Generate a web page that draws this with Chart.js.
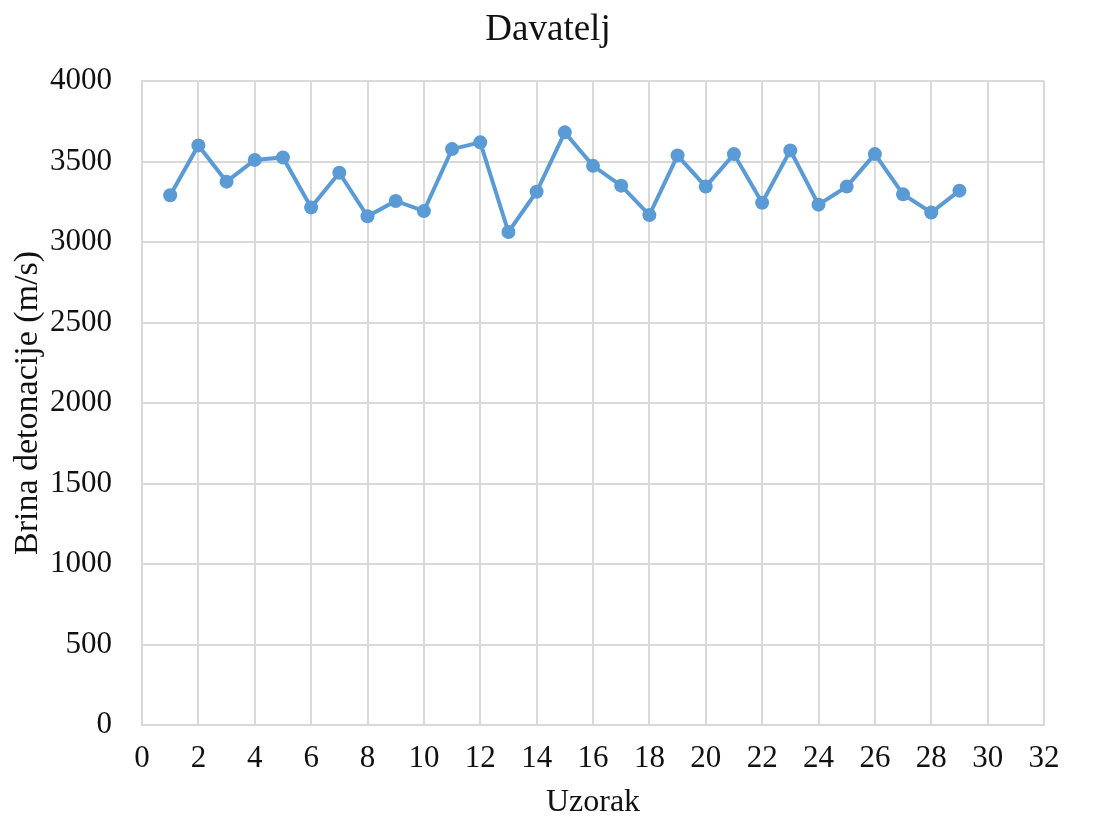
<!DOCTYPE html>
<html>
<head>
<meta charset="utf-8">
<script src="https://cdn.jsdelivr.net/npm/chart.js@4"></script>
<style>
  html, body { margin: 0; padding: 0; background: #fff; }
  #wrap { width: 1096px; height: 823px; }
</style>
</head>
<body>
<div id="wrap"><canvas id="chart" width="1096" height="823"></canvas></div>
<script>
// Sample numbers (Uzorak) and measured detonation velocity (m/s)
const samples = [1, 2, 3, 4, 5, 6, 7, 8, 9, 10, 11, 12, 13, 14, 15, 16, 17, 18, 19, 20, 21, 22, 23, 24, 25, 26, 27, 28, 29];
const velocities = [3290, 3600, 3375, 3510, 3525, 3215, 3430, 3160, 3255, 3192,
  3577, 3619, 3062, 3312, 3681, 3473, 3350, 3167, 3537, 3344,
  3546, 3244, 3569, 3232, 3344, 3546, 3296, 3183, 3319];

const chartTitle = 'Davatelj';
const xTitle = 'Uzorak';
const yTitle = 'Brina detonacije (m/s)';

const FONT = "'Liberation Serif', 'Times New Roman', serif";
const TEXT = '#111';
const GRID = '#d9d9d9';
const BLUE = '#5b9bd5';

const points = samples.map((s, i) => ({ x: s, y: velocities[i] }));

// Center the chart title on the whole canvas, not on the padded layout box
const fullWidthTitle = {
  id: 'fullWidthTitle',
  afterLayout(chart) {
    if (chart.titleBlock) {
      chart.titleBlock.left = 0;
      chart.titleBlock.right = chart.width;
      chart.titleBlock.width = chart.width;
    }
  },
};

new Chart(document.getElementById('chart'), {
  type: 'line',
  data: {
    datasets: [{
      data: points,
      borderColor: BLUE,
      backgroundColor: BLUE,
      borderWidth: 4,
      pointRadius: 7,
      pointBorderWidth: 0,
      tension: 0,
    }],
  },
  plugins: [fullWidthTitle],
  options: {
    responsive: false,
    animation: false,
    layout: { padding: { left: 0, right: 52, top: 0, bottom: 0 } },
    plugins: {
      legend: { display: false },
      tooltip: { enabled: false },
      title: {
        display: true,
        text: chartTitle,
        color: TEXT,
        font: { family: FONT, size: 37, weight: 'normal' },
        padding: { top: 8, bottom: 28.6 },
      },
    },
    scales: {
      x: {
        type: 'linear',
        min: 0,
        max: 32,
        ticks: { stepSize: 2, color: TEXT, font: { family: FONT, size: 31 }, padding: 15, maxRotation: 0 },
        grid: { color: GRID, lineWidth: 2, drawTicks: false },
        border: { color: GRID, width: 2 },
        title: { display: true, text: xTitle, color: TEXT, font: { family: FONT, size: 32 }, padding: { top: 0, bottom: 1 } },
        afterFit(scale) { scale.height = 98; },
      },
      y: {
        min: 0,
        max: 4000,
        ticks: {
          stepSize: 500, color: TEXT, font: { family: FONT, size: 31 }, padding: 30,
          callback(value) { return String(value); },
        },
        grid: { color: GRID, lineWidth: 2, drawTicks: false },
        border: { color: GRID, width: 2 },
        title: { display: true, text: yTitle, color: TEXT, font: { family: FONT, size: 34 }, padding: { top: 8, bottom: 0 } },
        afterFit(scale) { scale.width = 142; },
      },
    },
  },
});
</script>
</body>
</html>
